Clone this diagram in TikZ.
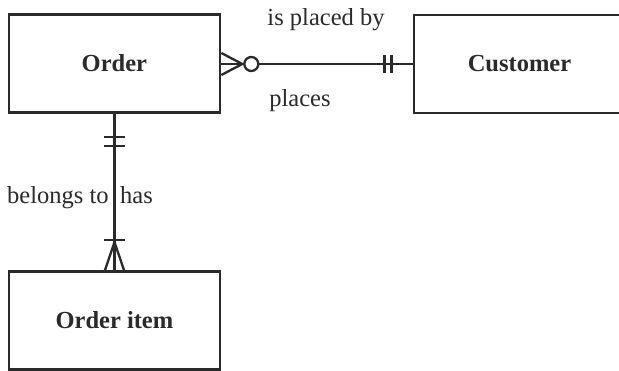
\documentclass[tikz,border=0pt]{standalone}
\usepackage{fontspec}
\setmainfont{Liberation Serif}
\usetikzlibrary{calc}
\definecolor{ink}{HTML}{2A2A2A}
\begin{document}
\begin{tikzpicture}[x=1pt,y=-1pt,
  entity/.style={draw=ink,line width=2.8pt,minimum width=211pt,minimum height=98pt,inner sep=0pt,
    font=\fontsize{24.5}{28}\selectfont\bfseries,text=ink},
  rel/.style={draw=ink,line width=2.3pt},
  lbl/.style={font=\fontsize{24.5}{28}\selectfont,text=ink,inner sep=0pt,anchor=base}]
\useasboundingbox (0,0) rectangle (619,371);
\clip (0,0) rectangle (619,371);
\fill[white] (0,0) rectangle (619,371);
\node[entity] (order) at (114.4,63.5) {Order};
\node[entity] (customer) at (519.5,64) {Customer};
\node[entity] (item) at (114.4,320.5) {Order item};
% Order -- Customer
\coordinate (oe) at (order.east|-0,64);
\coordinate (cw) at (customer.west|-0,64);
\draw[rel] (oe) -- (cw);
\draw[rel,fill=white] ($(oe)+(30,0)$) circle (7pt);
\draw[rel] ($(oe)+(0,-11)$) -- ($(oe)+(21,0)$) -- ($(oe)+(0,11)$);
\draw[rel] ($(cw)+(-28,-9)$) -- ($(cw)+(-28,9)$);
\draw[rel] ($(cw)+(-21,-9)$) -- ($(cw)+(-21,9)$);
% Order -- Order item
\coordinate (os) at (order.south-|114.5,0);
\coordinate (in) at (item.north-|114.5,0);
\draw[rel] (os) -- (in);
\draw[rel] ($(os)+(-10.5,23)$) -- ($(os)+(10.5,23)$);
\draw[rel] ($(os)+(-10.5,32)$) -- ($(os)+(10.5,32)$);
\draw[rel] ($(in)+(-10.5,-30)$) -- ($(in)+(10.5,-30)$);
\draw[rel] ($(in)+(-9.5,0)$) -- ($(in)+(0,-28)$) -- ($(in)+(9.5,0)$);
% labels
\node[lbl] (l1) at (326,26) {is placed by};
\node[lbl] (l2) at (300,107) {places};
\node[lbl,anchor=base west] (l3) at (7,204) {belongs to};
\node[lbl,anchor=base west] (l4) at (120,204) {has};
\end{tikzpicture}
\end{document}
